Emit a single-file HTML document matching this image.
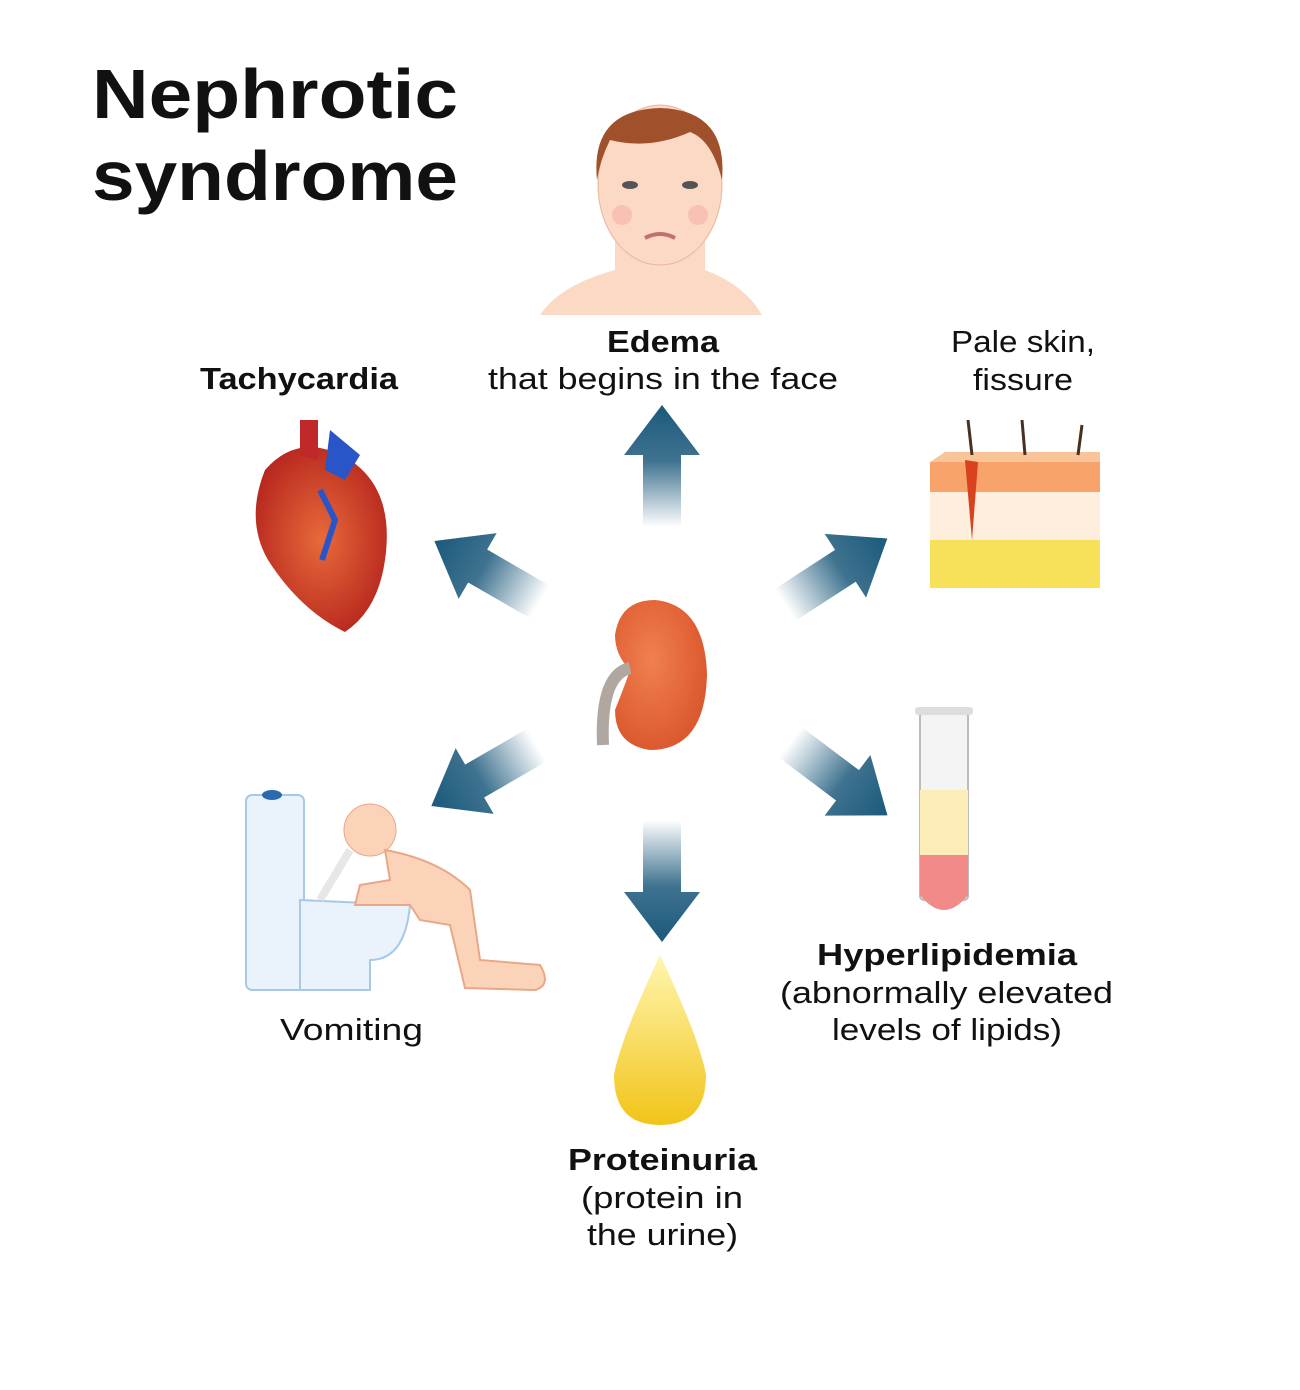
<!DOCTYPE html>
<html><head><meta charset="utf-8"><style>
html,body{margin:0;padding:0;background:#fff;}
svg{display:block;}
text{font-family:"Liberation Sans",sans-serif;fill:#111;}
</style></head><body>
<svg width="1300" height="1390" viewBox="0 0 1300 1390" xmlns="http://www.w3.org/2000/svg">
<defs>
<linearGradient id="ag" gradientUnits="userSpaceOnUse" x1="0" y1="0" x2="120" y2="0">
<stop offset="0" stop-color="#1d5a7c" stop-opacity="0"/>
<stop offset="0.55" stop-color="#1d5a7c" stop-opacity="0.85"/>
<stop offset="1" stop-color="#1d5a7c"/>
</linearGradient>
<g id="arr"><path d="M0,-19 L72,-19 L72,-38 L122,0 L72,38 L72,19 L0,19 Z" fill="url(#ag)"/></g>
<radialGradient id="kid" cx="0.4" cy="0.4" r="0.7"><stop offset="0" stop-color="#f08050"/><stop offset="1" stop-color="#d9532a"/></radialGradient>
<radialGradient id="hrt" cx="0.5" cy="0.5" r="0.6"><stop offset="0" stop-color="#e86a3a"/><stop offset="1" stop-color="#b3221c"/></radialGradient>
<linearGradient id="drop" x1="0" y1="0" x2="0" y2="1"><stop offset="0" stop-color="#fff6b0"/><stop offset="1" stop-color="#f2c418"/></linearGradient>
</defs>
<rect width="1300" height="1390" fill="#fff"/>

<text x="92" y="118" font-size="70" font-weight="bold" textLength="366" lengthAdjust="spacingAndGlyphs">Nephrotic</text>
<text x="92" y="200" font-size="70" font-weight="bold" textLength="366" lengthAdjust="spacingAndGlyphs">syndrome</text>

<!-- face -->
<path d="M540,315 Q560,285 615,270 L615,235 L705,235 L705,270 Q745,285 762,315 Z" fill="#fcd9c4"/>
<ellipse cx="660" cy="185" rx="62" ry="80" fill="#fcd9c4" stroke="#e8b69c"/>
<path d="M597,180 Q590,110 660,108 Q728,110 722,180 Q712,140 690,132 Q650,150 610,140 Q600,160 597,180Z" fill="#a0502a"/>
<ellipse cx="630" cy="185" rx="8" ry="4" fill="#555"/><ellipse cx="690" cy="185" rx="8" ry="4" fill="#555"/>
<path d="M645,238 Q660,230 675,238" stroke="#c07070" stroke-width="4" fill="none"/>
<circle cx="622" cy="215" r="10" fill="#f6b0a8" opacity="0.6"/><circle cx="698" cy="215" r="10" fill="#f6b0a8" opacity="0.6"/>

<g font-size="31">
<text x="607" y="352" font-weight="bold" textLength="112" lengthAdjust="spacingAndGlyphs">Edema</text>
<text x="488" y="389" textLength="350" lengthAdjust="spacingAndGlyphs">that begins in the face</text>
<text x="200" y="389" font-weight="bold" textLength="198" lengthAdjust="spacingAndGlyphs">Tachycardia</text>
<text x="951" y="352" textLength="144" lengthAdjust="spacingAndGlyphs">Pale skin,</text>
<text x="973" y="390" textLength="100" lengthAdjust="spacingAndGlyphs">fissure</text>
<text x="280" y="1040" textLength="143" lengthAdjust="spacingAndGlyphs">Vomiting</text>
<text x="817" y="965" font-weight="bold" textLength="260" lengthAdjust="spacingAndGlyphs">Hyperlipidemia</text>
<text x="780" y="1003" textLength="333" lengthAdjust="spacingAndGlyphs">(abnormally elevated</text>
<text x="832" y="1040" textLength="230" lengthAdjust="spacingAndGlyphs">levels of lipids)</text>
<text x="568" y="1170" font-weight="bold" textLength="189" lengthAdjust="spacingAndGlyphs">Proteinuria</text>
<text x="581" y="1208" textLength="162" lengthAdjust="spacingAndGlyphs">(protein in</text>
<text x="587" y="1245" textLength="151" lengthAdjust="spacingAndGlyphs">the urine)</text>
</g>

<!-- heart -->
<path d="M265,470 Q300,430 350,460 Q395,490 385,560 Q378,610 345,632 Q300,610 268,560 Q245,520 265,470Z" fill="url(#hrt)"/>
<path d="M300,455 L300,420 L318,420 L318,460 Z" fill="#c0282a"/>
<path d="M325,470 L330,430 L360,455 L345,480Z" fill="#2a55c8"/>
<path d="M320,490 L335,520 L322,560" stroke="#2a55c8" stroke-width="6" fill="none"/>

<!-- skin -->
<rect x="930" y="478" width="170" height="110" fill="#fdeedd"/>
<rect x="930" y="540" width="170" height="48" fill="#f7e15a"/>
<rect x="930" y="462" width="170" height="30" fill="#f7a36a"/>
<path d="M930,462 L945,452 L1100,452 L1100,462Z" fill="#f9c49a"/>
<path d="M965,460 L972,540 L978,462Z" fill="#d9411f"/>
<path d="M972,455 L968,420 M1025,455 L1022,420 M1078,455 L1082,425" stroke="#4a3020" stroke-width="3"/>

<!-- arrows -->
<use href="#arr" transform="translate(662,527) rotate(-90)"/>
<use href="#arr" transform="translate(540,602) rotate(210)"/>
<use href="#arr" transform="translate(785,605) rotate(-33)"/>
<use href="#arr" transform="translate(537,745) rotate(150)"/>
<use href="#arr" transform="translate(662,820) rotate(90)"/>
<use href="#arr" transform="translate(790,742) rotate(37)"/>

<!-- kidney -->
<path d="M655,600 Q705,605 707,675 Q705,750 650,750 Q615,745 615,710 Q625,685 630,670 Q615,655 615,635 Q620,600 655,600Z" fill="url(#kid)"/>
<path d="M630,668 Q600,675 603,745" stroke="#b0a8a0" stroke-width="12" fill="none"/>

<!-- test tube -->
<rect x="920" y="710" width="48" height="190" rx="4" fill="#f4f4f4" stroke="#bbb" stroke-width="2"/>
<path d="M920,790 L968,790 L968,855 L920,855Z" fill="#fbecb8"/>
<path d="M920,855 L968,855 L968,895 Q944,925 920,895Z" fill="#f28a8a"/>
<rect x="915" y="707" width="58" height="8" rx="3" fill="#ddd"/>

<!-- toilet -->
<rect x="246" y="795" width="58" height="195" rx="6" fill="#eaf3fc" stroke="#a8c8e8" stroke-width="2"/>
<path d="M300,900 L410,905 Q405,960 370,960 L370,990 L300,990Z" fill="#eaf3fc" stroke="#a8c8e8" stroke-width="2"/>
<ellipse cx="272" cy="795" rx="10" ry="5" fill="#2a6ab0"/>
<!-- person -->
<circle cx="370" cy="830" r="26" fill="#fbd3b8" stroke="#e8a888"/>
<path d="M385,850 Q440,860 470,890 L480,960 L540,965 Q552,985 535,990 L465,988 L450,925 L420,920 L410,905 L355,905 L360,885 L390,880 Z" fill="#fbd3b8" stroke="#e8a888" stroke-width="2"/>
<path d="M350,850 L320,900" stroke="#ddd" stroke-width="8" opacity="0.7"/>

<!-- drop -->
<path d="M660,955 Q700,1040 706,1075 Q706,1125 660,1125 Q614,1125 614,1075 Q620,1040 660,955Z" fill="url(#drop)"/>
</svg>
</body></html>
